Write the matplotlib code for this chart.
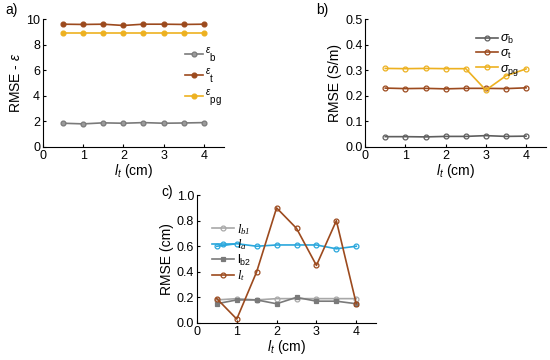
import matplotlib.pyplot as plt

plt.rcParams['font.family'] = ['Liberation Sans', 'DejaVu Sans']
plt.rcParams['mathtext.fontset'] = 'custom'
plt.rcParams['mathtext.rm'] = 'Liberation Sans'
plt.rcParams['mathtext.it'] = 'Liberation Sans:italic'
plt.rcParams['mathtext.sf'] = 'Liberation Serif:italic'

lt = [0.5, 1.0, 1.5, 2.0, 2.5, 3.0, 3.5, 4.0]

eps_b = [1.85, 1.8, 1.88, 1.85, 1.9, 1.85, 1.87, 1.9]
eps_t = [9.6, 9.58, 9.6, 9.5, 9.6, 9.6, 9.58, 9.6]
eps_pg = [8.9, 8.9, 8.9, 8.9, 8.9, 8.9, 8.9, 8.9]

sig_b = [0.040, 0.040, 0.039, 0.041, 0.041, 0.044, 0.041, 0.042]
sig_t = [0.230, 0.228, 0.229, 0.227, 0.229, 0.229, 0.228, 0.231]
sig_pg = [0.307, 0.306, 0.307, 0.306, 0.306, 0.222, 0.278, 0.305]

l_b1 = [0.18, 0.19, 0.18, 0.19, 0.19, 0.19, 0.19, 0.19]
l_a = [0.60, 0.62, 0.60, 0.61, 0.61, 0.61, 0.58, 0.60]
l_b2 = [0.15, 0.18, 0.18, 0.15, 0.20, 0.17, 0.17, 0.15]
l_t = [0.19, 0.03, 0.40, 0.90, 0.74, 0.45, 0.80, 0.15]

gray = '#7a7a7a'
brown = '#9c4a1e'
gold = '#EDB120'
blue = '#2aa7dc'
lgray = '#a8a8a8'

fig = plt.figure(figsize=(5.5, 3.6), dpi=100)


def style(ax, ylim, yticks, ylabel):
    ax.set_xlim(0, 4.5)
    ax.set_xticks([0, 1, 2, 3, 4])
    ax.set_ylim(*ylim)
    ax.set_yticks(yticks)
    ax.spines['top'].set_visible(False)
    ax.spines['right'].set_visible(False)
    ax.tick_params(direction='in', labelsize=9, length=2.5, pad=2)
    ax.set_xlabel('$l_t$ (cm)', fontsize=10, labelpad=0)
    ax.set_ylabel(ylabel, fontsize=10, labelpad=2)


def line(ax, y, c, lab, m='o', fc='none'):
    ax.plot(lt, y, color=c, marker=m, ms=3.5, lw=1.2, mfc=fc, mec=c, mew=0.9, label=lab)


# a)
ax1 = fig.add_axes([0.078, 0.592, 0.329, 0.355])
line(ax1, eps_b, gray, r'$^\epsilon\mathrm{_b}$', fc='#9a9a9a')
line(ax1, eps_t, brown, r'$^\epsilon\mathrm{_t}$', fc=brown)
line(ax1, eps_pg, gold, r'$^\epsilon\mathrm{_{pg}}$', fc=gold)
style(ax1, (0, 10), [0, 2, 4, 6, 8, 10], 'RMSE - $\\epsilon$')
ax1.legend(loc='center right', bbox_to_anchor=(1.06, 0.55), frameon=False, fontsize=10,
           handlelength=1.3, handletextpad=0.15, labelspacing=0.2)
fig.text(0.01, 0.962, 'a)', fontsize=10)

# b)
ax2 = fig.add_axes([0.664, 0.592, 0.329, 0.355])
line(ax2, sig_b, '#5e5e5e', r'$\sigma\mathrm{_b}$')
line(ax2, sig_t, brown, r'$\sigma\mathrm{_t}$')
line(ax2, sig_pg, gold, r'$\sigma\mathrm{_{pg}}$')
style(ax2, (0, 0.5), [0, 0.1, 0.2, 0.3, 0.4, 0.5], 'RMSE (S/m)')
ax2.legend(loc='upper left', bbox_to_anchor=(0.55, 0.98), frameon=False, fontsize=9,
           handlelength=1.8, handletextpad=0.15, labelspacing=0.15)
fig.text(0.575, 0.962, 'b)', fontsize=10)

# c)
ax3 = fig.add_axes([0.358, 0.103, 0.326, 0.355])
line(ax3, l_b1, lgray, r'$\mathsf{l_{b1}}$')
line(ax3, l_a, blue, r'$\mathsf{l_a}$')
line(ax3, l_b2, gray, r'$\mathrm{l_{b2}}$', m='s', fc=gray)
line(ax3, l_t, brown, r'$\mathsf{l_t}$')
style(ax3, (0, 1), [0, 0.2, 0.4, 0.6, 0.8, 1], 'RMSE (cm)')
ax3.legend(loc='upper left', bbox_to_anchor=(0.02, 0.88), frameon=False, fontsize=9,
           handlelength=1.8, handletextpad=0.2, labelspacing=0.05)
fig.text(0.293, 0.455, 'c)', fontsize=10)

fig.savefig('out.png', dpi=100)
